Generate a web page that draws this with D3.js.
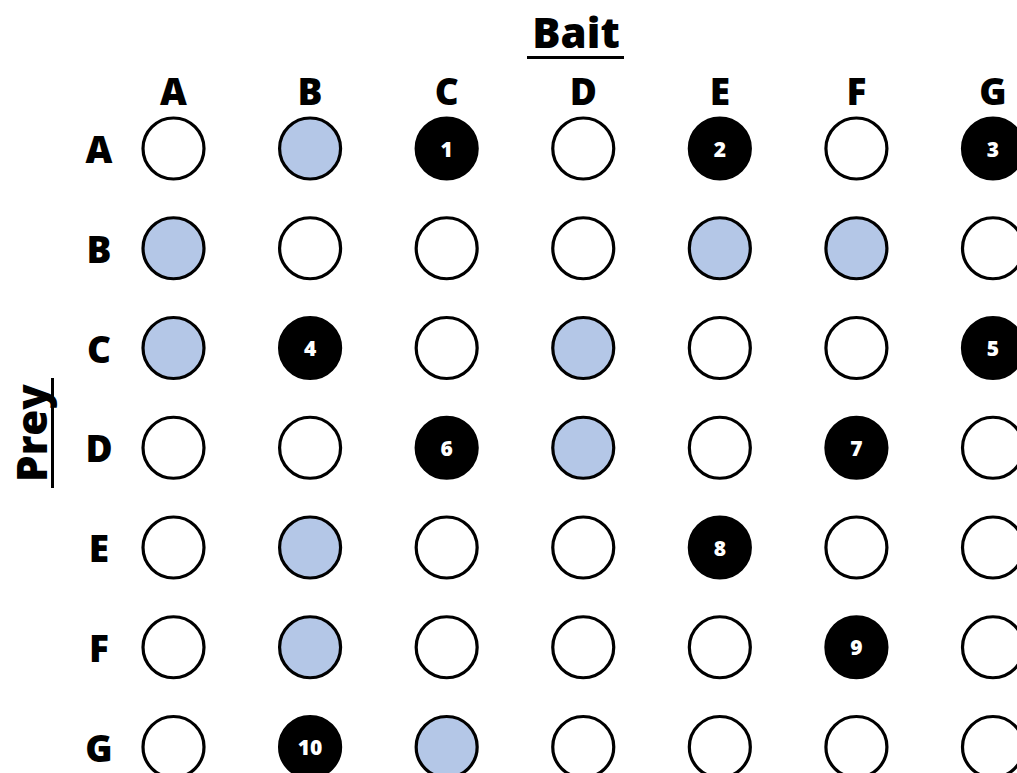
<!DOCTYPE html>
<html><head><meta charset="utf-8">
<script src="https://cdn.jsdelivr.net/npm/d3@7"></script>
<style>body{margin:0;background:#fff}svg{display:block}</style>
</head><body>
<svg id="chart" width="1017" height="773"></svg>
<script>
const baits = ["A","B","C","D","E","F","G"];
const preys = ["A","B","C","D","E","F","G"];
// cell state: 0 = empty, 1 = blue, 2 = black (numbered)
const rowA = [0,1,2,0,2,0,2];
const rowB = [1,0,0,0,1,1,0];
const rowC = [1,2,0,1,0,0,2];
const rowD = [0,0,2,1,0,2,0];
const rowE = [0,1,0,0,2,0,0];
const rowF = [0,1,0,0,0,2,0];
const rowG = [0,2,1,0,0,0,0];
const grid = [rowA,rowB,rowC,rowD,rowE,rowF,rowG];

const svg = d3.select("#chart");
const font = "'Open Sans', sans-serif";
const x = d3.scalePoint().domain(baits).range([173.5, 993]);
const y = d3.scalePoint().domain(preys).range([148.5, 747]);
const r = 30.5;

const cells = [];
let n = 0;
grid.forEach((row, i) => row.forEach((v, j) => {
  const c = {prey: preys[i], bait: baits[j], v};
  if (v === 2) { n += 1; c.num = n; }
  cells.push(c);
}));

const colors = {0: "#ffffff", 1: "#b4c7e7", 2: "#000000"};
svg.selectAll("circle.cell").data(cells).join("circle")
  .attr("class","cell")
  .attr("cx", d => x(d.bait)).attr("cy", d => y(d.prey)).attr("r", r)
  .attr("fill", d => colors[d.v]).attr("stroke", "#000").attr("stroke-width", 3.2);

svg.selectAll("text.num").data(cells.filter(d => d.v === 2)).join("text")
  .attr("class","num")
  .attr("x", d => x(d.bait)).attr("y", d => y(d.prey))
  .attr("text-anchor","middle").attr("dominant-baseline","central")
  .attr("fill","#fff").attr("font-family", font).attr("font-weight", 800)
  .attr("font-size", 21).text(d => d.num);

// column labels
svg.selectAll("text.col").data(baits).join("text")
  .attr("class","col").attr("x", d => x(d)).attr("y", 105)
  .attr("text-anchor","middle").attr("font-family", font).attr("font-weight", 800)
  .attr("font-size", 37).text(d => d);

// row labels
svg.selectAll("text.row").data(preys).join("text")
  .attr("class","row").attr("x", 99).attr("y", d => y(d))
  .attr("text-anchor","middle").attr("dominant-baseline","central")
  .attr("font-family", font).attr("font-weight", 800)
  .attr("font-size", 37).text(d => d);

// titles
svg.append("text").attr("x", 576).attr("y", 48).attr("text-anchor","middle")
  .attr("font-family", font).attr("font-weight", 800).attr("font-size", 42)
  .text("Bait");
svg.append("line").attr("x1",527).attr("x2",624).attr("y1",57.5).attr("y2",57.5)
  .attr("stroke","#000").attr("stroke-width",3);

svg.append("text").attr("transform","translate(47,433) rotate(-90)")
  .attr("text-anchor","middle")
  .attr("font-family", font).attr("font-weight", 800).attr("font-size", 42)
  .text("Prey");
svg.append("line").attr("x1",52.5).attr("x2",52.5).attr("y1",378).attr("y2",488)
  .attr("stroke","#000").attr("stroke-width",3);
</script>
</body></html>
